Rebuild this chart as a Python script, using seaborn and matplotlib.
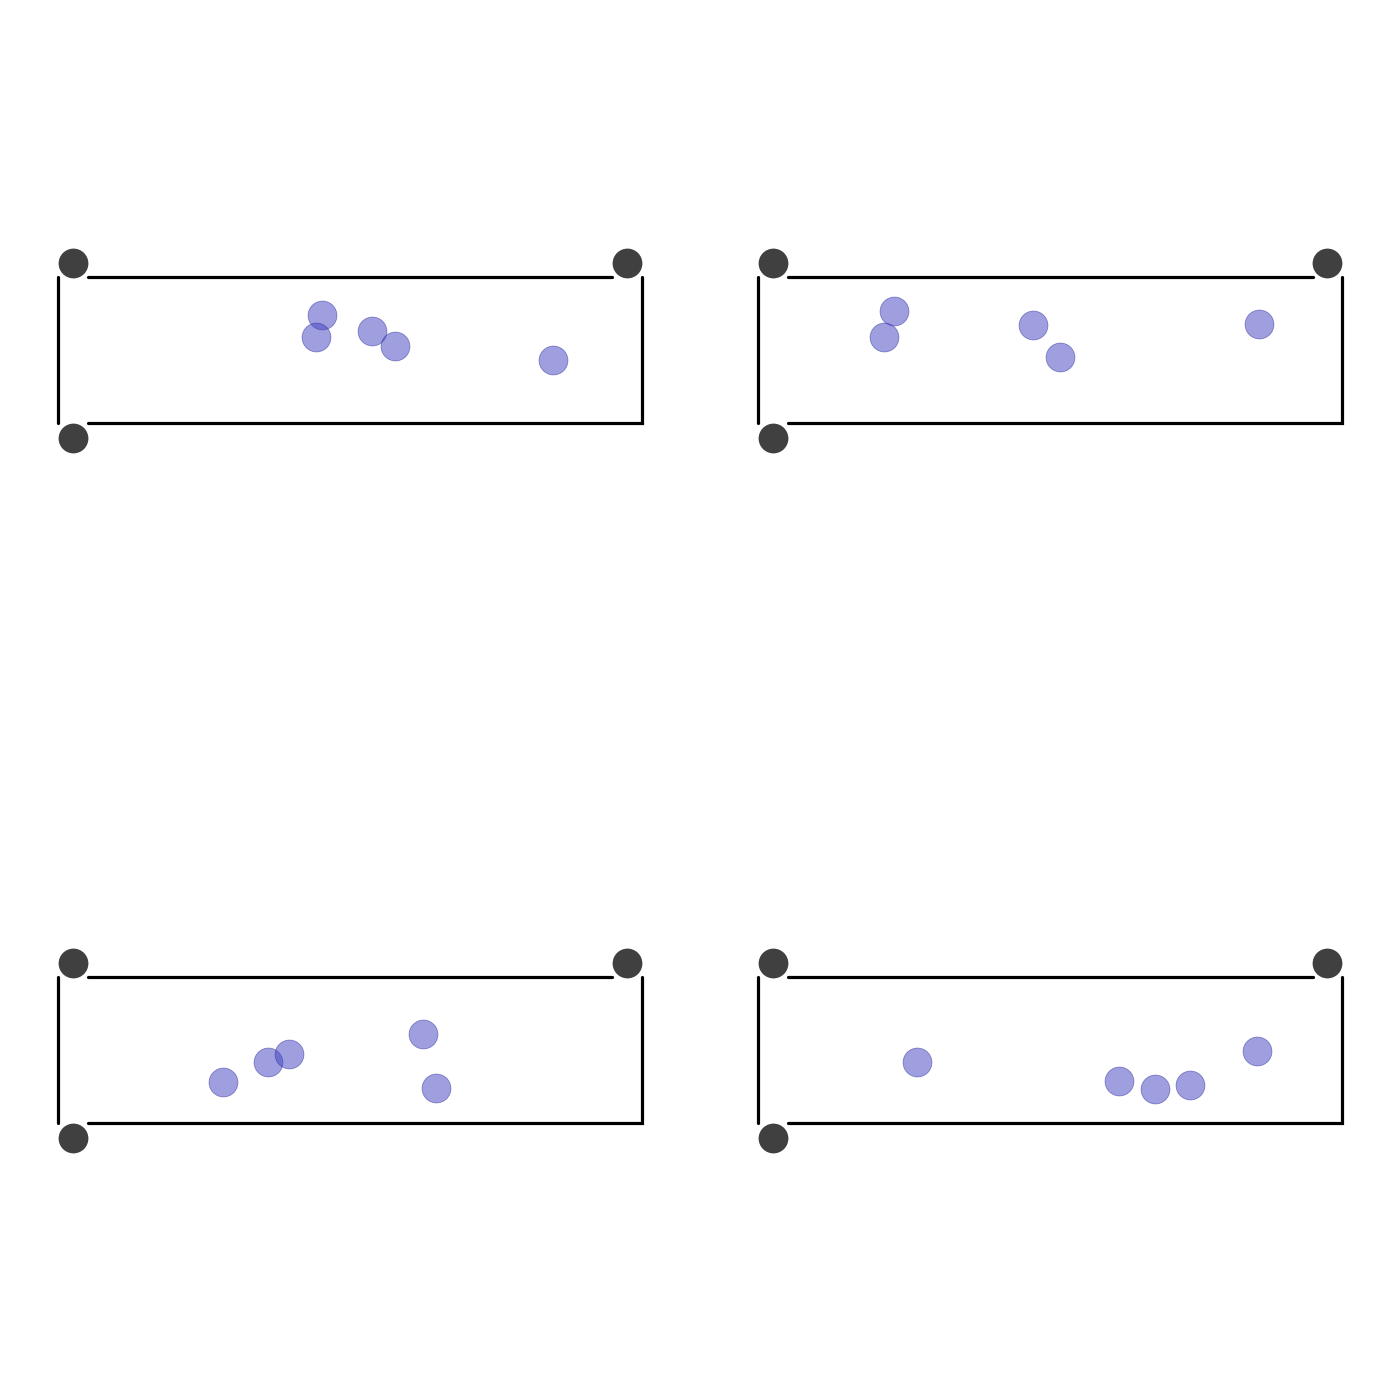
import numpy as np
import pandas as pd
import matplotlib
matplotlib.use("Agg")
import matplotlib.pyplot as plt
import seaborn as sns

# table size (units) and pocket positions
TABLE_W = 4.0
TABLE_H = 1.0
pocket_x = [0.1, 3.9, 0.1]
pocket_y = [1.1, 1.1, -0.1]

# ball positions per table
panel = [1] * 5 + [2] * 5 + [3] * 5 + [4] * 5
ball_x = [1.81, 1.77, 2.15, 2.31, 3.39,
          0.93, 0.86, 1.88, 2.07, 3.43,
          1.13, 1.44, 1.58, 2.50, 2.59,
          1.09, 2.47, 2.72, 2.96, 3.42]
ball_y = [0.74, 0.59, 0.63, 0.53, 0.43,
          0.77, 0.59, 0.67, 0.45, 0.68,
          0.28, 0.42, 0.47, 0.61, 0.24,
          0.42, 0.29, 0.23, 0.26, 0.49]

df = pd.DataFrame({"panel": panel, "x": ball_x, "y": ball_y})
pockets = pd.DataFrame({"x": pocket_x, "y": pocket_y})

sns.set_style("white")
fig, axes = plt.subplots(2, 2, figsize=(14, 14), dpi=100)
fig.subplots_adjust(left=0, right=1, bottom=0, top=1, wspace=0, hspace=0)

for i, ax in enumerate(axes.flat):
    # cushions
    ax.plot([0.2, TABLE_W - 0.2], [TABLE_H, TABLE_H], color="black", lw=2.3)
    ax.plot([0, 0], [0, TABLE_H], color="black", lw=2.3)
    ax.plot([TABLE_W, TABLE_W, 0.2], [TABLE_H, 0, 0], color="black", lw=2.3,
            solid_joinstyle="miter")
    sns.scatterplot(data=pockets, x="x", y="y", ax=ax, color="#404040",
                    s=460, linewidth=0, legend=False)
    sns.scatterplot(data=df[df["panel"] == i + 1], x="x", y="y", ax=ax,
                    color="#4141c1", alpha=0.5, s=430,
                    edgecolor="#2a2aa0", linewidth=0.6, legend=False)
    ax.set_xlim(-0.4, TABLE_W + 0.4)
    ax.set_ylim(-1.9, 2.9)
    ax.set_aspect("equal")
    ax.axis("off")

fig.savefig("out.png", dpi=100, facecolor="white")
